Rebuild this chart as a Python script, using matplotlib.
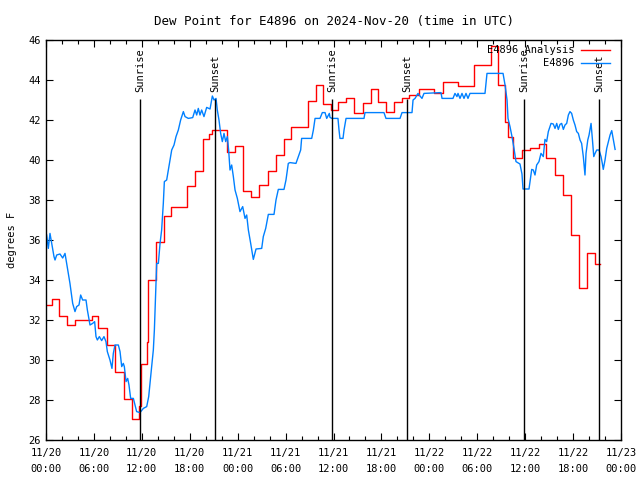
import matplotlib
matplotlib.use("Agg")
import matplotlib.pyplot as plt
from matplotlib.ticker import MultipleLocator

plt.rcParams['font.family'] = ['DejaVu Sans Mono']
plt.rcParams['font.size'] = 7.5

# hours since 2024-11-20 00:00 UTC
tiempo_obs = [0.08, 0.29, 0.5, 0.71, 1.0, 1.13, 1.34, 1.75, 2.09, 2.38, 2.59, 3.0, 3.34, 3.63,
              3.84, 4.13, 4.34, 4.59, 5.01, 5.18, 5.51, 5.84, 6.09, 6.26, 6.43, 6.68, 6.97, 7.26,
              7.51, 7.68, 8.01, 8.26, 8.43, 8.64, 9.06, 9.27, 9.48, 9.68, 9.81, 10.02, 10.23, 10.39,
              10.6, 10.94, 11.14, 11.35, 11.77, 12.19, 12.61, 12.86, 13.02, 13.23, 13.44, 13.57,
              13.69, 13.86, 14.07, 14.28, 14.48, 14.69, 14.82, 15.11, 15.32, 15.53, 15.74, 16.03,
              16.28, 16.57, 16.86, 17.2, 17.41, 17.82, 18.37, 18.66, 18.87, 19.07, 19.28, 19.49,
              19.78, 20.12, 20.54, 20.83, 21.04, 21.29, 21.45, 21.66, 21.87, 22.08, 22.29, 22.5,
              22.71, 22.87, 23.04, 23.25, 23.46, 23.67, 23.96, 24.29, 24.63, 24.92, 25.13, 25.34,
              25.63, 25.96, 26.3, 27.01, 27.21, 27.51, 27.84, 28.55, 28.8, 29.09, 29.8, 30.05,
              30.34, 30.55, 31.3, 31.6, 31.89, 32.01, 33.27, 33.48, 33.69, 34.31, 34.6, 34.94,
              35.15, 35.48, 35.56, 35.81, 36.56, 36.69, 36.81, 37.19, 37.32, 37.57, 39.82, 39.94,
              42.32, 42.57, 44.33, 44.58, 45.83, 45.96, 46.21, 46.58, 46.83, 47.08, 47.33, 49.46,
              49.59, 50.96, 51.21, 51.46, 51.59, 51.84, 52.09, 52.34, 52.59, 52.84, 53.09, 54.97,
              55.22, 57.23, 57.48, 57.73, 57.85, 58.1, 58.35, 58.6, 58.85, 59.35, 59.6, 59.73,
              60.48, 60.82, 61.02, 61.23, 61.44, 61.73, 61.98, 62.27, 62.48, 62.69, 62.9, 63.24,
              63.52, 63.74, 63.95, 64.15, 64.36, 64.57, 64.78, 64.99, 65.2, 65.41, 65.61, 65.82,
              66.03, 66.24, 66.45, 66.66, 66.87, 67.07, 67.28, 67.49, 67.62, 67.84, 68.0, 68.25,
              68.41, 68.59, 68.75, 68.96, 69.25, 69.5, 69.66, 69.78, 70.0, 70.21, 70.42, 70.63,
              70.84, 71.05, 71.26]
punto_rocio_obs = [36.25, 35.58, 36.33, 35.83, 35.17, 35.0, 35.25, 35.3, 35.1, 35.33, 34.83, 33.83,
                   32.83, 32.42, 32.67, 32.75, 33.25, 33.0, 33.0, 32.5, 31.75, 31.83, 31.92, 31.17,
                   31.0, 31.17, 30.97, 31.17, 30.92, 30.42, 30.0, 29.58, 30.33, 30.75, 30.75, 30.42,
                   29.67, 29.83, 29.67, 28.92, 29.08, 28.75, 28.08, 28.08, 27.75, 27.42, 27.37, 27.58,
                   27.67, 28.17, 28.83, 29.67, 30.5, 31.5, 32.83, 34.83, 34.83, 35.83, 36.5, 37.83,
                   38.92, 39.0, 39.5, 40.0, 40.5, 40.75, 41.17, 41.5, 42.0, 42.42, 42.17, 42.08,
                   42.12, 42.5, 42.25, 42.58, 42.25, 42.5, 42.17, 42.63, 42.55, 43.2, 43.0, 43.08,
                   42.5, 42.0, 41.33, 40.92, 41.33, 40.92, 41.17, 40.5, 39.5, 39.75, 39.17, 38.5,
                   38.08, 37.42, 37.67, 37.08, 37.25, 36.5, 35.83, 35.03, 35.55, 35.58, 36.17, 36.58,
                   37.28, 37.28, 38.0, 38.53, 38.53, 39.0, 39.83, 39.87, 39.83, 40.17, 40.5, 41.08,
                   41.08, 41.5, 42.08, 42.08, 42.37, 42.37, 42.08, 42.33, 42.13, 42.08, 42.08, 41.5,
                   41.08, 41.08, 41.5, 42.08, 42.08, 42.37, 42.37, 42.08, 42.08, 42.37, 42.37, 43.0,
                   43.08, 43.33, 43.2, 43.08, 43.33, 43.37, 43.08, 43.08, 43.33, 43.17, 43.33, 43.08,
                   43.33, 43.08, 43.33, 43.08, 43.33, 43.33, 44.33, 44.33, 43.75, 43.0, 42.08, 41.67,
                   41.17, 40.58, 39.92, 39.8, 39.3, 38.55, 38.55, 39.53, 39.5, 39.25, 39.75, 39.92,
                   40.33, 40.17, 41.03, 40.92, 41.42, 41.83, 41.8, 41.58, 41.83, 41.53, 41.78, 41.83,
                   41.53, 41.75, 41.83, 42.25, 42.42, 42.33, 42.0, 41.75, 41.42, 41.33, 41.0, 40.83,
                   40.17, 39.25, 40.33, 41.0, 41.25, 41.83, 41.08, 40.17, 40.33, 40.5, 40.5, 40.17,
                   39.83, 39.53, 40.0, 40.58, 40.92, 41.25, 41.47, 41.0, 40.53]

tiempo_analisis = [0.0, 0.71, 1.63, 2.67, 3.63, 5.72, 6.55, 7.64, 8.68, 9.73, 10.77, 11.64, 11.9,
                   12.6, 12.75, 13.72, 14.74, 15.65, 17.65, 18.66, 19.7, 20.4, 20.8, 22.66, 23.7,
                   24.7, 25.67, 26.71, 27.76, 28.76, 29.76, 30.68, 32.77, 33.77, 34.69, 35.69, 36.52,
                   37.57, 38.6, 39.65, 40.7, 41.61, 42.57, 43.62, 44.62, 45.5, 46.67, 48.55, 49.67,
                   51.63, 53.63, 55.68, 56.56, 57.52, 57.81, 58.44, 59.56, 60.65, 61.69, 62.65, 63.7,
                   64.7, 65.7, 66.74, 67.7, 68.71, 69.37]
punto_rocio_analisis = [32.73, 33.03, 32.2, 31.75, 32.0, 32.2, 31.58, 30.75, 29.4, 28.03, 27.03,
                        27.7, 29.8, 30.9, 34.0, 35.92, 37.2, 37.63, 38.7, 39.47, 41.03, 41.3, 41.5,
                        40.38, 40.7, 38.45, 38.13, 38.75, 39.43, 40.23, 41.03, 41.67, 42.95, 43.73,
                        42.8, 42.5, 42.92, 43.08, 42.33, 42.83, 43.53, 42.92, 42.42, 42.92, 43.08,
                        43.25, 43.53, 43.37, 43.9, 43.72, 44.75, 45.7, 43.75, 41.9, 41.17, 40.08,
                        40.5, 40.58, 40.8, 40.08, 39.25, 38.25, 36.25, 33.58, 35.33, 34.8, 34.8]

sol_tiempos = [11.81, 21.2, 35.85, 45.24, 59.89, 69.28]
sol_etiquetas = ['Sunrise', 'Sunset', 'Sunrise', 'Sunset', 'Sunrise', 'Sunset']

ticks_x = [0, 6, 12, 18, 24, 30, 36, 42, 48, 54, 60, 66, 72]
etiquetas_x = ['11/20\n00:00', '11/20\n06:00', '11/20\n12:00', '11/20\n18:00',
               '11/21\n00:00', '11/21\n06:00', '11/21\n12:00', '11/21\n18:00',
               '11/22\n00:00', '11/22\n06:00', '11/22\n12:00', '11/22\n18:00',
               '11/23\n00:00']

fig = plt.figure(figsize=(6.4, 4.8), dpi=100)
ax = fig.add_axes([46 / 640, 40 / 480, 575 / 640, 400 / 480])

ax.step(tiempo_analisis, punto_rocio_analisis, where='post', color='#ff0000', lw=1.0,
        label='E4896 Analysis')
ax.plot(tiempo_obs, punto_rocio_obs, color='#0080ff', lw=1.0, label='E4896')

for t, etiqueta in zip(sol_tiempos, sol_etiquetas):
    ax.vlines(t, 26, 43.05, color='black', lw=1.0)
    ax.text(t, 43.4, etiqueta, rotation=90, ha='center', va='bottom')

ax.set_xlim(0, 72)
ax.set_ylim(26, 46)
ax.set_xticks(ticks_x)
ax.set_xticklabels(etiquetas_x, linespacing=1.75)
ax.xaxis.set_minor_locator(MultipleLocator(2))
ax.yaxis.set_major_locator(MultipleLocator(2))
ax.tick_params(which='both', direction='in', top=True, right=True, width=0.8)
ax.tick_params(which='major', length=5, pad=4)
ax.tick_params(axis='x', which='major', pad=6)
ax.tick_params(which='minor', length=3)
for s in ax.spines.values():
    s.set_linewidth(1.0)

ax.set_title('Dew Point for E4896 on 2024-Nov-20 (time in UTC)', pad=11)
ax.set_ylabel('degrees F', labelpad=8)

ax.legend(loc='upper right', bbox_to_anchor=(0.981, 0.987), frameon=False, markerfirst=False,
          handlelength=2.8, handletextpad=0.6, borderpad=0, borderaxespad=0,
          labelspacing=0.3)

plt.savefig('out.png', dpi=100)
